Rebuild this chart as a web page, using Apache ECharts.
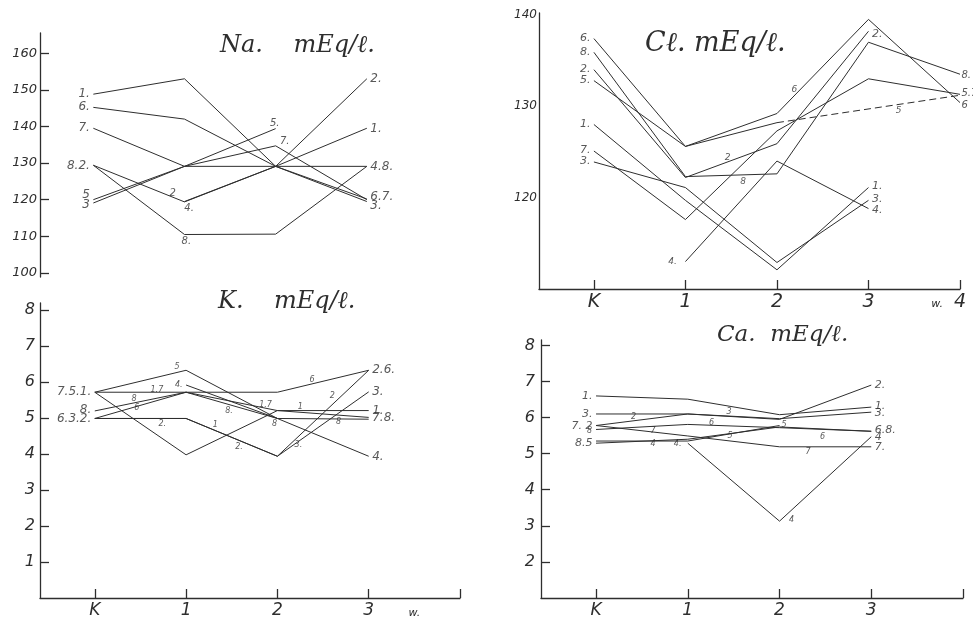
<!DOCTYPE html>
<html>
<head>
<meta charset="utf-8">
<script src="https://cdn.jsdelivr.net/npm/echarts@6/dist/echarts.min.js"></script>
<style>
html,body{margin:0;padding:0;background:#fff;}
#chart{width:973px;height:619px;}
</style>
</head>
<body>
<div id="chart"></div>
<script>
// 系列番号 1..8, 時点 K,1,2,3(,4)
var seriesNames = ['1','2','3','4','5','6','7','8'];

var naTicks = [100,110,120,130,140,150,160];
var clTicks = [120,130,140];
var kTicks  = [1,2,3,4,5,6,7,8];
var caTicks = [2,3,4,5,6,7,8];

var kXLabels  = [[0,'K'],[1,'1'],[2,'2'],[3,'3'],[3.5,'w.']];
var clXLabels = [[0,'K'],[1,'1'],[2,'2'],[3,'3'],[3.75,'w.'],[4,'4']];
var caXLabels = [[0,'K'],[1,'1'],[2,'2'],[3,'3']];

// Na mEq/l
var naVals = [
  [148.8,153.0,129.1,139.5],
  [129.4,119.4,129.1,153.0],
  [119.1,129.1,129.1,119.5],
  [null,119.5,129.1,129.1],
  [120.0,129.1,139.4,null],
  [145.2,142.0,129.1,120.2],
  [139.5,129.1,134.7,120.0],
  [129.4,110.5,110.6,129.1]
];
var naLeft  = [[148.8,'1.'],[145.3,'6.'],[139.5,'7.'],[129.2,'8.2.'],[121.4,'5'],[118.6,'3']];
var naRight = [[153.0,'2.'],[139.2,'1.'],[128.9,'4.8.'],[120.9,'6.7.'],[118.2,'3.']];
var naMid   = [[1.99,140.9,'5.'],[2.1,135.8,'7.'],[1.02,108.5,'8.'],[1.05,117.6,'4.'],[0.87,121.8,'2']];

// Cl mEq/l
var clVals = [
  [128.0,119.7,112.1,121.1,null],
  [134.0,122.2,125.9,138.2,null],
  [123.9,121.1,112.9,119.7,null],
  [null,113.0,124.0,118.8,null],
  [132.8,125.6,128.2,null,131.2],
  [137.4,125.6,129.2,139.5,130.4],
  [125.1,117.6,127.3,133.0,131.3],
  [135.9,122.3,122.6,137.0,133.5]
];
var clLeft  = [[137.4,'6.'],[135.9,'8.'],[134.1,'2.'],[132.8,'5.'],[128.0,'1.'],[125.2,'7.'],[124.0,'3.']];
var clRight3 = [[137.9,'2.'],[121.3,'1.'],[119.8,'3.'],[118.6,'4.']];
var clRight4 = [[133.4,'8.'],[131.4,'5.7.'],[130.1,'6']];
var clMid   = [[0.86,113.0,'4.'],[2.19,131.8,'6'],[1.46,124.4,'2'],[1.63,121.7,'8'],[3.33,129.5,'5']];

// K mEq/l
var kVals = [
  [5.72,3.98,5.21,5.21],
  [4.99,4.99,3.94,6.33],
  [4.99,4.99,3.94,5.73],
  [null,5.92,4.99,3.94],
  [5.72,6.33,4.99,null],
  [4.99,5.72,5.72,6.33],
  [5.72,5.72,5.21,5.02],
  [5.20,5.72,4.99,4.97]
];
var kLeft  = [[5.72,'7.5.1.'],[5.22,'8.'],[4.99,'6.3.2.']];
var kRight = [[6.35,'2.6.'],[5.73,'3.'],[5.21,'1.'],[5.0,'7.8.'],[3.91,'4.']];
var kMid   = [[0.9,6.43,'5'],[0.92,5.93,'4.'],[0.68,5.78,'1.7'],[0.74,4.85,'2.'],[1.58,4.21,'2.'],
              [1.47,5.21,'8.'],[1.32,4.8,'1'],[1.87,5.37,'1.7'],[1.97,4.85,'8'],[2.38,6.06,'6'],
              [2.6,5.62,'2'],[2.25,5.32,'1'],[2.67,4.9,'8'],[2.23,4.25,'3.'],[0.43,5.53,'8'],[0.46,5.28,'6']];

// Ca mEq/l
var caVals = [
  [6.60,6.51,6.08,6.29],
  [5.78,6.10,5.95,6.90],
  [6.10,6.10,5.97,6.15],
  [null,5.29,3.13,5.47],
  [5.35,5.35,5.78,null],
  [5.67,5.81,5.72,5.62],
  [5.78,5.49,5.19,5.19],
  [5.29,5.40,5.74,5.62]
];
var caLeft  = [[6.6,'1.'],[6.1,'3.'],[5.76,'7. 2'],[5.3,'8.5']];
var caRight = [[6.9,'2.'],[6.33,'1.'],[6.12,'3.'],[5.65,'6.8.'],[5.45,'4'],[5.18,'7.']];
var caMid   = [[0.41,6.02,'2'],[1.45,6.15,'3'],[0.62,5.63,'7'],[1.26,5.84,'6'],[0.62,5.28,'4'],
               [0.89,5.26,'4.'],[1.46,5.49,'5'],[2.05,5.8,'5'],[2.47,5.47,'6'],[2.31,5.05,'7'],
               [2.13,3.16,'4'],[-0.07,5.64,'8']];

var INK = '#2e2e2e';
var HAND = 'DejaVu Sans';

function lines(p, vals) {
  return vals.map(function (v, i) {
    return {
      name: seriesNames[i], type: 'line', xAxisIndex: p, yAxisIndex: p,
      data: v.map(function (y, x) { return [x, y == null ? '-' : y]; }),
      symbol: 'none', silent: true,
      lineStyle: {color: INK, width: 1}
    };
  });
}

function notes(p, list, pos, size, xFixed, dist) {
  return {
    type: 'scatter', xAxisIndex: p, yAxisIndex: p, symbolSize: 1, silent: true,
    itemStyle: {color: 'rgba(0,0,0,0)'},
    data: list.map(function (n) {
      return xFixed == null ? {value: [n[0], n[1]], name: n[2]} : {value: [xFixed, n[0]], name: n[1]};
    }),
    label: {show: true, position: pos, distance: dist == null ? 3 : dist, formatter: '{b}', fontSize: size,
      fontStyle: 'italic', color: INK, fontFamily: HAND}
  };
}

function xAxisCfg(p, labels, show, fontSize) {
  return {
    type: 'value', gridIndex: p, min: -0.6, max: 4, show: show,
    axisLine: {onZero: false, lineStyle: {color: INK, width: 1.3}},
    axisTick: {inside: true, length: 9, customValues: [0,1,2,3,4], lineStyle: {color: INK, width: 1.3}},
    splitLine: {show: false},
    axisLabel: {
      customValues: labels.map(function (l) { return l[0]; }),
      margin: 4, color: INK, fontSize: fontSize, fontStyle: 'italic', fontFamily: HAND,
      formatter: function (v) {
        for (var i = 0; i < labels.length; i++) {
          if (Math.abs(labels[i][0] - v) < 1e-6) return labels[i][1] == 'w.' ? '{w|w.}' : labels[i][1];
        }
        return '';
      },
      rich: {w: {fontSize: 11, fontStyle: 'italic', fontFamily: HAND, color: INK, padding: [6,0,0,0]}}
    }
  };
}

function yAxisCfg(p, min, max, ticks, showTicks, fontSize, margin) {
  return {
    type: 'value', gridIndex: p, min: min, max: max,
    axisLine: {show: true, onZero: false, lineStyle: {color: INK, width: 1.3}},
    axisTick: {show: showTicks, inside: true, length: 9, customValues: ticks, lineStyle: {color: INK, width: 1.3}},
    splitLine: {show: false},
    axisLabel: {customValues: ticks, margin: margin, color: INK, fontSize: fontSize,
      fontStyle: 'italic', fontFamily: HAND}
  };
}

function titleCfg(text, left, top, size) {
  return {text: text, left: left, top: top, padding: 0,
    textStyle: {fontSize: size, fontWeight: 'normal', fontStyle: 'italic', fontFamily: 'DejaVu Serif', color: INK}};
}

var series = [];
series = series.concat(lines(0, naVals), lines(1, clVals), lines(2, kVals), lines(3, caVals));
series.push({
  name: '5', type: 'line', xAxisIndex: 1, yAxisIndex: 1, symbol: 'none', silent: true,
  data: [[2, clVals[4][2]], [4, clVals[4][4]]],
  lineStyle: {color: INK, width: 1, type: [7, 4]}
});
series.push(
  notes(0, naLeft, 'left', 12, 0), notes(0, naRight, 'right', 12, 3), notes(0, naMid, 'inside', 10),
  notes(1, clLeft, 'left', 11, 0), notes(1, clRight3, 'right', 11, 3), notes(1, clRight4, 'right', 10, 4, 1), notes(1, clMid, 'inside', 9),
  notes(2, kLeft, 'left', 12, 0), notes(2, kRight, 'right', 12, 3), notes(2, kMid, 'inside', 8),
  notes(3, caLeft, 'left', 11, 0), notes(3, caRight, 'right', 11, 3), notes(3, caMid, 'inside', 8)
);

var option = {
  backgroundColor: '#ffffff',
  animation: false,
  title: [
    titleCfg('Na.    mEq/ℓ.', 220, 34, 24),
    titleCfg('Cℓ. mEq/ℓ.', 645, 30, 27),
    titleCfg('K.    mEq/ℓ.', 218, 290, 24),
    titleCfg('Ca.  mEq/ℓ.', 717, 324, 23)
  ],
  grid: [
    {left: 40, top: 33, width: 418, height: 244},
    {left: 539, top: 13, width: 421, height: 276},
    {left: 40, top: 303, width: 420, height: 299},
    {left: 541, top: 340, width: 422, height: 261}
  ],
  xAxis: [
    (function () { var a = xAxisCfg(0, kXLabels, false, 16); a.min = -0.585; return a; })(),
    xAxisCfg(1, clXLabels, true, 19),
    xAxisCfg(2, kXLabels, true, 17),
    xAxisCfg(3, caXLabels, true, 17)
  ],
  yAxis: [
    yAxisCfg(0, 98.9, 165.5, naTicks, true, 13, 3),
    yAxisCfg(1, 110, 140.2, clTicks, false, 12, 2),
    yAxisCfg(2, 0, 8.2, kTicks, true, 16, 5),
    yAxisCfg(3, 1, 8.15, caTicks, true, 16, 6)
  ],
  series: series
};

var chart = echarts.init(document.getElementById('chart'));
chart.setOption(option);
</script>
</body>
</html>
